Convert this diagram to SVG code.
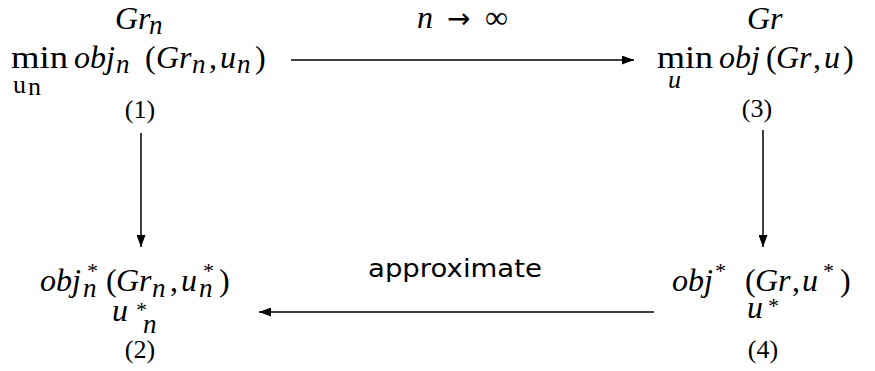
<svg xmlns="http://www.w3.org/2000/svg" width="875" height="371" viewBox="0 0 875 371">
<defs>
<style>
.m{font-family:"Liberation Serif","DejaVu Serif",serif;font-size:32px;fill:#000}
.i{font-style:italic}
.s{font-size:27px}
.st{font-size:22px}
.n{font-family:"Liberation Serif",serif;font-size:26px;fill:#000}
.lbl{font-family:"DejaVu Sans","Liberation Sans",sans-serif;font-size:25px;fill:#000}
.c{stroke:#000;stroke-width:1.5;fill:none}
</style>
<marker id="ah" viewBox="0 0 12 9" refX="12" refY="4.5" markerWidth="12" markerHeight="9" markerUnits="userSpaceOnUse" orient="auto">
<path d="M0,0 L12,4.5 L0,9 z" fill="#000"/>
</marker>
</defs>
<rect width="875" height="371" fill="#fff"/>
<g id="connectors">
<line class="c" x1="291" y1="60" x2="634" y2="60" marker-end="url(#ah)"/>
<line class="c" x1="141" y1="133" x2="141" y2="247" marker-end="url(#ah)"/>
<line class="c" x1="763" y1="130" x2="763" y2="247" marker-end="url(#ah)"/>
<line class="c" x1="654" y1="312" x2="259" y2="312" marker-end="url(#ah)"/>
<text class="m" font-size="30"><tspan class="i" x="417" y="28">n</tspan><tspan x="447" y="28" font-family="DejaVu Sans,sans-serif" font-size="28">→</tspan><tspan x="485" y="28">∞</tspan></text>
<text class="lbl" x="368" y="277" textLength="174" lengthAdjust="spacingAndGlyphs">approximate</text>
</g>
<g id="node1">
<text class="m i"><tspan x="115" y="29">Gr</tspan><tspan class="s" x="149" y="34">n</tspan></text>
<text class="m"><tspan x="11" y="68" textLength="57" lengthAdjust="spacingAndGlyphs">min</tspan><tspan class="i" x="74" y="68">obj</tspan><tspan class="i s" x="116" y="73">n</tspan><tspan x="145" y="68">(</tspan><tspan class="i" x="156" y="68">Gr</tspan><tspan class="i s" x="192" y="73">n</tspan><tspan x="209" y="68">,</tspan><tspan class="i" x="220" y="68">u</tspan><tspan class="i s" x="237" y="73">n</tspan><tspan x="255" y="68">)</tspan></text>
<text class="n"><tspan x="13" y="93">u</tspan><tspan x="28" y="95">n</tspan></text>
<text class="n" x="140" y="118" text-anchor="middle">(1)</text>
</g>
<g id="node3">
<text class="m i" x="747" y="29">Gr</text>
<text class="m"><tspan x="657" y="68" textLength="56" lengthAdjust="spacingAndGlyphs">min</tspan><tspan class="i" x="719" y="68">obj</tspan><tspan x="766" y="68">(</tspan><tspan class="i" x="776" y="68">Gr</tspan><tspan x="813" y="68">,</tspan><tspan class="i" x="824" y="68">u</tspan><tspan x="843" y="68">)</tspan></text>
<text class="n i" x="668" y="88">u</text>
<text class="n" x="757" y="117" text-anchor="middle">(3)</text>
</g>
<g id="node2">
<text class="m"><tspan class="i" x="40" y="291">obj</tspan><tspan class="i st" x="86" y="278">*</tspan><tspan class="i s" x="83" y="297">n</tspan><tspan x="106" y="291">(</tspan><tspan class="i" x="116" y="291">Gr</tspan><tspan class="i s" x="152" y="297">n</tspan><tspan x="170" y="291">,</tspan><tspan class="i" x="181" y="291">u</tspan><tspan class="i st" x="202" y="278">*</tspan><tspan class="i s" x="199" y="297">n</tspan><tspan x="219" y="291">)</tspan></text>
<text class="m i"><tspan x="112" y="321">u</tspan><tspan class="st" x="135" y="317">*</tspan><tspan class="s" x="143" y="333">n</tspan></text>
<text class="n" x="140" y="358" text-anchor="middle">(2)</text>
</g>
<g id="node4">
<text class="m"><tspan class="i" x="672" y="291">obj</tspan><tspan class="i st" x="714" y="278">*</tspan><tspan x="745" y="291">(</tspan><tspan class="i" x="755" y="291">Gr</tspan><tspan x="792" y="291">,</tspan><tspan class="i" x="802" y="291">u</tspan><tspan class="i st" x="822" y="278">*</tspan><tspan x="840" y="291">)</tspan></text>
<text class="m i"><tspan x="747" y="318">u</tspan><tspan class="st" x="767" y="313">*</tspan></text>
<text class="n" x="763" y="358" text-anchor="middle">(4)</text>
</g>
</svg>
